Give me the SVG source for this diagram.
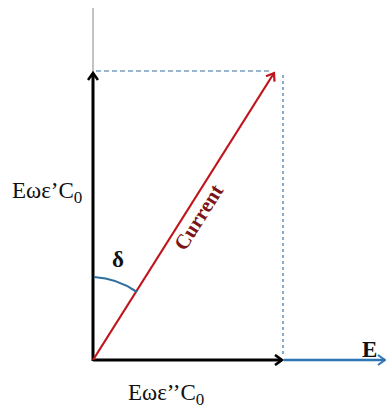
<svg xmlns="http://www.w3.org/2000/svg" width="386" height="413" viewBox="0 0 386 413">
<style>
.lbl{font-family:"Liberation Serif","Times New Roman",serif;font-size:23px;fill:#111}
.bold{font-weight:bold}
.dash{fill:none;stroke:#7a9cbf;stroke-width:1.7}
</style>
<defs>
<marker id="ak" markerWidth="12" markerHeight="12" refX="9" refY="6" orient="auto" markerUnits="userSpaceOnUse">
<path d="M2,1 L9,6 L2,11" fill="none" stroke="#000" stroke-width="2.6"/>
</marker>
<marker id="ar" markerWidth="12" markerHeight="12" refX="9" refY="6" orient="auto" markerUnits="userSpaceOnUse">
<path d="M2,1 L9,6 L2,11" fill="none" stroke="#c0141c" stroke-width="2.2"/>
</marker>
<marker id="ab" markerWidth="12" markerHeight="12" refX="9" refY="6" orient="auto" markerUnits="userSpaceOnUse">
<path d="M2,1 L9,6 L2,11" fill="none" stroke="#2e75b6" stroke-width="2"/>
</marker>
</defs>
<rect width="386" height="413" fill="#fff"/>
<g id="connectors">
<line x1="93" y1="8" x2="93" y2="72" stroke="#888" stroke-width="1"/>
<line class="dash" x1="96" y1="71" x2="272" y2="71" stroke-dasharray="5,3"/>
<line class="dash" x1="283" y1="75" x2="283" y2="357" stroke-dasharray="3,3"/>
<line x1="93" y1="361" x2="93" y2="73" stroke="#000" stroke-width="3" marker-end="url(#ak)"/>
<line x1="93" y1="360" x2="282" y2="360" stroke="#000" stroke-width="3" marker-end="url(#ak)"/>
<line x1="284" y1="360" x2="385" y2="360" stroke="#2e75b6" stroke-width="2.5" marker-end="url(#ab)"/>
<line x1="93" y1="360" x2="274" y2="73" stroke="#c0141c" stroke-width="2.2" marker-end="url(#ar)"/>
<path d="M94,277 A83,83 0 0 1 137,292" fill="none" stroke="#2e6f9e" stroke-width="2.2"/>
</g>
<g id="label-y"><text class="lbl" x="12" y="198">Eωε’C<tspan dy="5" font-size="17">0</tspan></text></g>
<g id="label-x"><text class="lbl" x="128" y="400">Eωε’’C<tspan dy="5" font-size="17">0</tspan></text></g>
<g id="label-delta"><text class="lbl bold" x="112" y="267" font-size="20">δ</text></g>
<g id="label-current"><text class="lbl bold" x="0" y="0" style="fill:#7b1418;font-size:21px" transform="translate(185,252) rotate(-57.7)">Current</text></g>
<g id="label-E"><text class="lbl bold" x="362" y="357" font-size="20">E</text></g>
</svg>
